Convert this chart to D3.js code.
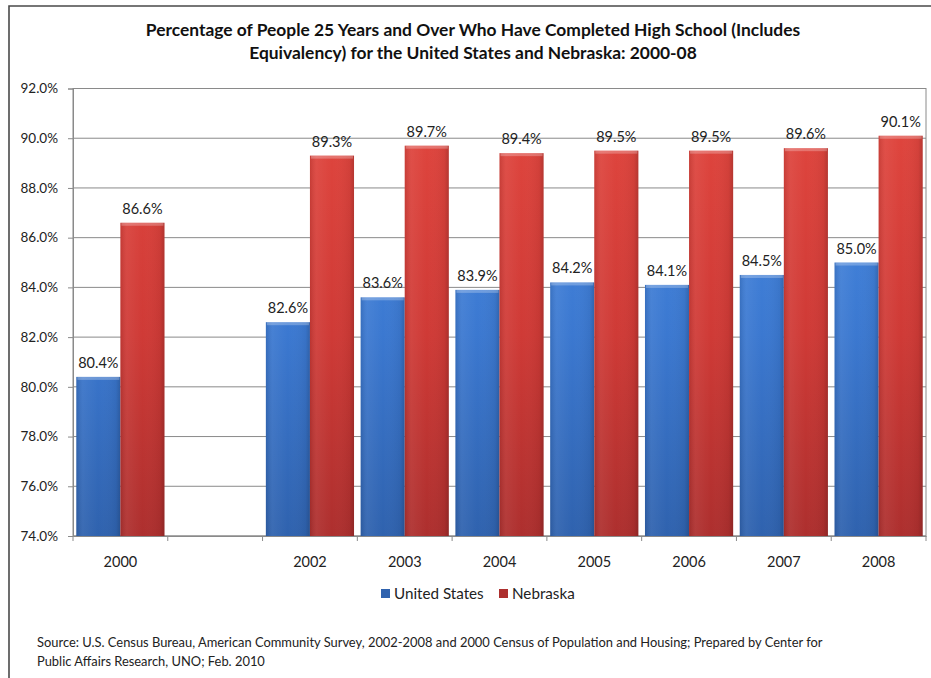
<!DOCTYPE html>
<html><head><meta charset="utf-8">
<script src="https://cdn.jsdelivr.net/npm/d3@7"></script>
<style>body{margin:0;background:#fff;} svg{display:block;font-family:Lato, "Open Sans", sans-serif;}</style>
</head><body>
<svg id="c" width="931" height="678"></svg>
<script>
const categories = ["2000", "", "2002", "2003", "2004", "2005", "2006", "2007", "2008"];
const unitedStates = [80.4, null, 82.6, 83.6, 83.9, 84.2, 84.1, 84.5, 85.0];
const nebraska = [86.6, null, 89.3, 89.7, 89.4, 89.5, 89.5, 89.6, 90.1];
const seriesNames = ["United States", "Nebraska"];
const yTicks = [74, 76, 78, 80, 82, 84, 86, 88, 90, 92];
const titleLines = ["Percentage of People 25 Years and Over Who Have Completed High School (Includes", "Equivalency) for the United States and Nebraska: 2000-08"];
const sourceLines = ["Source: U.S. Census Bureau, American Community Survey, 2002-2008 and 2000 Census of Population and Housing; Prepared by Center for", "Public Affairs Research, UNO; Feb. 2010"];

const svg = d3.select("#c");
const m = {left: 73, right: 926, top: 88.5, bottom: 536};

// outer frame
svg.append("path").attr("d", "M9,690 L9,6 L940,6").attr("fill", "none").attr("stroke", "#4a4a4a").attr("stroke-width", 1.6);

const x = d3.scaleBand().domain(d3.range(categories.length)).range([m.left, m.right]).paddingInner(0).paddingOuter(0);
const x1 = d3.scaleBand().domain([0, 1]).range([0, x.bandwidth()]).paddingOuter(0.075).paddingInner(0);
const y = d3.scaleLinear().domain([74, 92]).range([m.bottom, m.top]);

const defs = svg.append("defs");
function grad(id, c1, c2, c3) {
  const g = defs.append("linearGradient").attr("id", id).attr("gradientUnits", "userSpaceOnUse")
    .attr("x1", 0).attr("y1", m.top).attr("x2", 0).attr("y2", m.bottom);
  g.append("stop").attr("offset", "0%").attr("stop-color", c1);
  g.append("stop").attr("offset", "55%").attr("stop-color", c2);
  g.append("stop").attr("offset", "100%").attr("stop-color", c3);
}
grad("gBlue", "#4a8de6", "#3b78d0", "#2f62ae");
grad("gRed", "#e2473f", "#cf3a36", "#ad2f2e");
function hgrad(id) {
  const g = defs.append("linearGradient").attr("id", id).attr("x1", 0).attr("x2", 1).attr("y1", 0).attr("y2", 0);
  g.append("stop").attr("offset", "0%").attr("stop-color", "#000").attr("stop-opacity", 0.10);
  g.append("stop").attr("offset", "15%").attr("stop-color", "#fff").attr("stop-opacity", 0.06);
  g.append("stop").attr("offset", "50%").attr("stop-color", "#fff").attr("stop-opacity", 0.0);
  g.append("stop").attr("offset", "90%").attr("stop-color", "#000").attr("stop-opacity", 0.05);
  g.append("stop").attr("offset", "100%").attr("stop-color", "#000").attr("stop-opacity", 0.18);
}
hgrad("gShade");

// gridlines
svg.append("g").selectAll("line").data(yTicks).join("line")
  .attr("x1", m.left).attr("x2", m.right).attr("y1", d => y(d)).attr("y2", d => y(d))
  .attr("stroke", "#8a8a8a").attr("stroke-width", 1);
// plot border
svg.append("rect").attr("x", m.left).attr("y", m.top).attr("width", m.right - m.left).attr("height", m.bottom - m.top)
  .attr("fill", "none").attr("stroke", "#8a8a8a").attr("stroke-width", 1);

// y axis
const yAxis = d3.axisLeft(y).tickValues(yTicks).tickSize(5).tickPadding(10).tickFormat(d => d.toFixed(1) + "%");
const ya = svg.append("g").attr("transform", `translate(${m.left},0)`).call(yAxis);
ya.select(".domain").attr("stroke", "#8a8a8a");
ya.selectAll(".tick line").attr("stroke", "#8a8a8a");
ya.selectAll("text").attr("font-size", 13.5).attr("fill", "#222").style("font-family", "Lato, sans-serif");

// x axis
const xa = svg.append("g").attr("transform", `translate(0,${m.bottom})`)
  .call(d3.axisBottom(x).tickSize(0).tickPadding(21).tickFormat(i => categories[i]));
xa.select(".domain").attr("stroke", "#8a8a8a");
xa.selectAll("text").attr("font-size", 14.5).attr("fill", "#222").style("font-family", "Lato, sans-serif");
svg.append("g").selectAll("line").data(d3.range(categories.length + 1)).join("line")
  .attr("x1", i => m.left + i * x.bandwidth()).attr("x2", i => m.left + i * x.bandwidth())
  .attr("y1", m.bottom).attr("y2", m.bottom + 5).attr("stroke", "#8a8a8a");

// bars
const series = [unitedStates, nebraska];
const fills = ["url(#gBlue)", "url(#gRed)"];
series.forEach((vals, s) => {
  const g = svg.append("g");
  const data = vals.map((v, i) => ({v, i})).filter(d => d.v != null);
  g.selectAll("rect.bar").data(data).join("rect").attr("class", "bar")
    .attr("x", d => x(d.i) + x1(s)).attr("width", x1.bandwidth())
    .attr("y", d => y(d.v)).attr("height", d => y(74) - y(d.v))
    .attr("fill", fills[s]);
  g.selectAll("rect.shade").data(data).join("rect").attr("class", "shade")
    .attr("x", d => x(d.i) + x1(s)).attr("width", x1.bandwidth())
    .attr("y", d => y(d.v)).attr("height", d => y(74) - y(d.v))
    .attr("fill", "url(#gShade)");
  g.selectAll("rect.cap").data(data).join("rect").attr("class", "cap")
    .attr("x", d => x(d.i) + x1(s) + 1).attr("width", x1.bandwidth() - 2)
    .attr("y", d => y(d.v)).attr("height", 3)
    .attr("fill", "#fff").attr("opacity", 0.25);
  g.selectAll("text").data(data).join("text")
    .attr("x", d => x(d.i) + x1(s) + x1.bandwidth() / 2).attr("y", d => y(d.v) - 9)
    .attr("text-anchor", "middle").attr("font-size", 14.5).attr("fill", "#222")
    .text(d => d.v.toFixed(1) + "%");
});

// title
svg.append("g").selectAll("text").data(titleLines).join("text")
  .attr("x", 473).attr("y", (d, i) => 36 + i * 23).attr("text-anchor", "middle")
  .attr("font-size", 17.4).attr("font-weight", "bold").attr("fill", "#111").text(d => d);

// legend
const leg = svg.append("g");
const legX = [381, 499];
seriesNames.forEach((n, i) => {
  leg.append("rect").attr("x", legX[i]).attr("y", 589).attr("width", 9).attr("height", 9).attr("fill", fills[i]);
  leg.append("text").attr("x", legX[i] + 13).attr("y", 598.5).attr("font-size", 15.2).attr("fill", "#222").text(n);
});

// source
svg.append("g").selectAll("text").data(sourceLines).join("text")
  .attr("x", 37).attr("y", (d, i) => 647 + i * 19).attr("font-size", 12.9).attr("fill", "#222").text(d => d);
</script>
</body></html>
